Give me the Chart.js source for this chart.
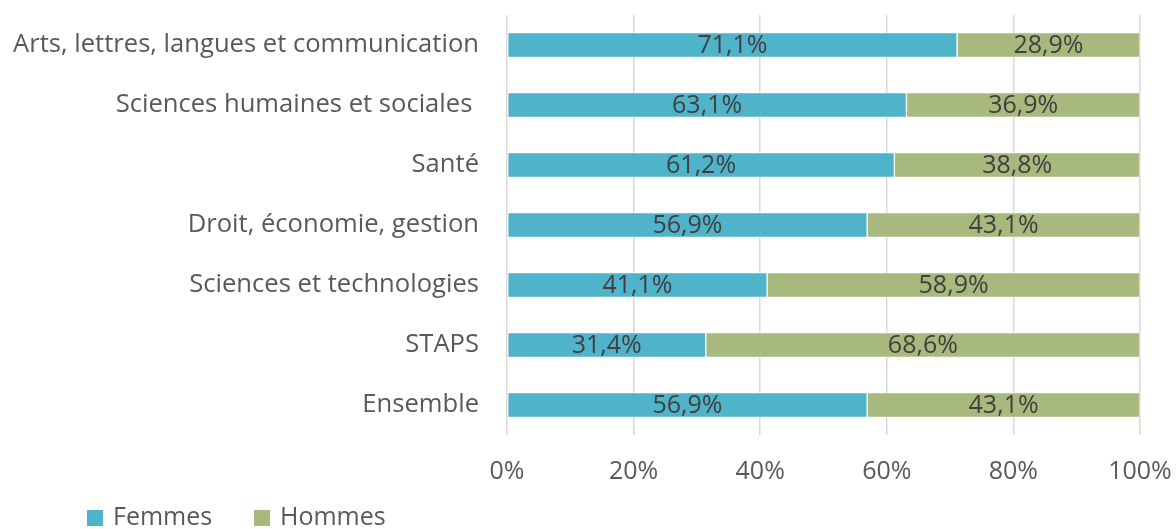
<!DOCTYPE html>
<html>
<head>
<meta charset="utf-8">
<script src="https://cdn.jsdelivr.net/npm/chart.js@4/dist/chart.umd.min.js"></script>
<style>
  html, body { margin: 0; padding: 0; background: #ffffff; }
  #wrap { width: 1176px; height: 529px; position: relative; }
</style>
</head>
<body>
<div id="wrap"><canvas id="c" width="1176" height="529"></canvas></div>
<script>
const categories = [
  "Arts, lettres, langues et communication",
  "Sciences humaines et sociales ",
  "Santé",
  "Droit, économie, gestion",
  "Sciences et technologies",
  "STAPS",
  "Ensemble"
];
const femmes = [71.1, 63.1, 61.2, 56.9, 41.1, 31.4, 56.9];
const hommes = [28.9, 36.9, 38.8, 43.1, 58.9, 68.6, 43.1];
const seriesNames = ["Femmes", "Hommes"];
const xTicks = [0, 20, 40, 60, 80, 100];

const FONT = "'Open Sans', sans-serif";
const COL_F = "#4FB3C9";
const COL_H = "#A7B97D";

function fmt(v) { return v.toFixed(1).replace('.', ',') + '%'; }

const dataLabels = {
  id: 'dataLabels',
  afterDatasetsDraw(chart) {
    const ctx = chart.ctx;
    ctx.save();
    ctx.font = "25px " + FONT;
    ctx.fillStyle = "#404040";
    ctx.textAlign = "center";
    ctx.textBaseline = "middle";
    chart.data.datasets.forEach((ds, di) => {
      const meta = chart.getDatasetMeta(di);
      meta.data.forEach((bar, i) => {
        const cx = (bar.x + bar.base) / 2;
        ctx.fillText(fmt(ds.data[i]), cx, bar.y + 1);
      });
    });
    ctx.restore();
  }
};

const customLegend = {
  id: 'customLegend',
  afterDraw(chart) {
    const ctx = chart.ctx;
    ctx.save();
    ctx.font = "25px " + FONT;
    ctx.textBaseline = "middle";
    ctx.textAlign = "left";
    const starts = [87, 254];
    chart.data.datasets.forEach((ds, di) => {
      const x = starts[di];
      ctx.fillStyle = ds.backgroundColor;
      ctx.fillRect(x, 510, 16, 16);
      ctx.fillStyle = "#595959";
      ctx.fillText(ds.label, x + 26, 518);
    });
    ctx.restore();
  }
};

new Chart(document.getElementById('c'), {
  type: 'bar',
  data: {
    labels: categories,
    datasets: [
      { label: seriesNames[0], data: femmes, backgroundColor: COL_F, borderColor: "rgba(255,255,255,0.55)", borderWidth: 1, borderSkipped: false, barThickness: 25 },
      { label: seriesNames[1], data: hommes, backgroundColor: COL_H, borderColor: "rgba(255,255,255,0.55)", borderWidth: 1, borderSkipped: false, barThickness: 25 }
    ]
  },
  options: {
    indexAxis: 'y',
    responsive: false,
    animation: false,
    devicePixelRatio: 1,
    layout: { padding: { left: 0, right: 36, top: 15, bottom: 40 } },
    plugins: {
      legend: { display: false },
      tooltip: { enabled: false }
    },
    scales: {
      x: {
        stacked: true,
        min: 0,
        max: 100,
        afterBuildTicks(scale) { scale.ticks = xTicks.map(v => ({ value: v })); },
        afterFit(scale) {
          scale.height = 54;
          scale.paddingLeft = 0; scale.paddingRight = 0;
          scale.paddingTop = 0; scale.paddingBottom = 0;
        },
        grid: { color: "#D9D9D9", lineWidth: 1.5, drawTicks: false },
        border: { display: false },
        ticks: {
          padding: 22,
          color: "#595959",
          font: { family: FONT, size: 25, lineHeight: 1.2 },
          callback: v => v + '%'
        }
      },
      y: {
        stacked: true,
        afterFit(scale) {
          scale.width = 507;
          scale.paddingLeft = 0; scale.paddingRight = 0;
          scale.paddingTop = 0; scale.paddingBottom = 0;
        },
        grid: { display: false, drawTicks: false },
        border: { display: false },
        ticks: {
          padding: 28,
          color: "#595959",
          font: { family: FONT, size: 25.6, lineHeight: 1.2 }
        }
      }
    }
  },
  plugins: [dataLabels, customLegend]
});
</script>
</body>
</html>
